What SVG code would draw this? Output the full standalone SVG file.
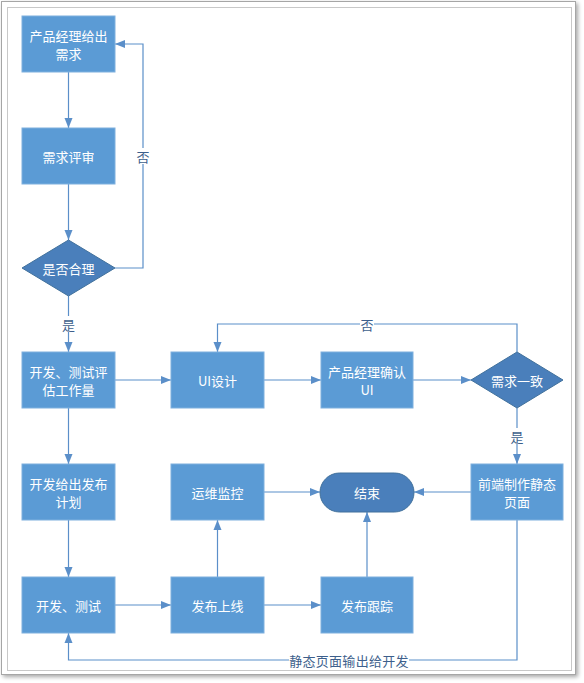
<svg xmlns="http://www.w3.org/2000/svg" width="584" height="683" viewBox="0 0 584 683">
<defs>
<style>
.box{fill:#5b9bd5;stroke:#7fb0de;stroke-width:1}
.dark{fill:#4a7fbb;stroke:#41719c;stroke-width:1}
.t{font-family:"Noto Sans CJK SC","Microsoft YaHei",sans-serif;font-size:13px;fill:#ffffff;text-anchor:middle;dominant-baseline:central}
.lbl{font-family:"Noto Sans CJK SC","Microsoft YaHei",sans-serif;font-size:13px;fill:#3d5f8c;text-anchor:middle;dominant-baseline:central}
.c{fill:none;stroke:#5b8fc9;stroke-width:1.2}
.bg{fill:#ffffff}
</style>
<marker id="ah" markerWidth="10" markerHeight="10" refX="10" refY="5" orient="auto" markerUnits="userSpaceOnUse">
<path d="M0,1 L10,5 L0,9 Z" fill="#5b8fc9"/>
</marker>
<filter id="sh" x="-10%" y="-10%" width="130%" height="130%">
<feGaussianBlur in="SourceAlpha" stdDeviation="2"/>
<feOffset dx="2" dy="2"/>
<feComponentTransfer><feFuncA type="linear" slope="0.35"/></feComponentTransfer>
<feMerge><feMergeNode/><feMergeNode in="SourceGraphic"/></feMerge>
</filter>
</defs>
<g id="frame">
<rect x="1.5" y="1.5" width="574" height="673" fill="#ffffff" stroke="#a6a6a6" stroke-width="1" filter="url(#sh)"/>
<rect x="7.5" y="7.5" width="564" height="663" fill="#ffffff" stroke="#c8c8c8" stroke-width="1"/>
</g>
<g id="connectors">
<path class="c" d="M68.5,72 V128" marker-end="url(#ah)"/>
<path class="c" d="M68.5,184 V240" marker-end="url(#ah)"/>
<path class="c" d="M115,268 H143 V44 H115" marker-end="url(#ah)"/>
<path class="c" d="M68.5,296 V352" marker-end="url(#ah)"/>
<path class="c" d="M115,380 H171" marker-end="url(#ah)"/>
<path class="c" d="M264,380 H321" marker-end="url(#ah)"/>
<path class="c" d="M413,380 H471" marker-end="url(#ah)"/>
<path class="c" d="M517,352 V324 H217.5 V352" marker-end="url(#ah)"/>
<path class="c" d="M517,408 V464" marker-end="url(#ah)"/>
<path class="c" d="M471,492 H414" marker-end="url(#ah)"/>
<path class="c" d="M264,492 H320" marker-end="url(#ah)"/>
<path class="c" d="M68.5,408 V464" marker-end="url(#ah)"/>
<path class="c" d="M68.5,520 V577" marker-end="url(#ah)"/>
<path class="c" d="M115,605 H171" marker-end="url(#ah)"/>
<path class="c" d="M217.5,577 V520" marker-end="url(#ah)"/>
<path class="c" d="M264,605 H321" marker-end="url(#ah)"/>
<path class="c" d="M367,577 V512" marker-end="url(#ah)"/>
<path class="c" d="M517,520 V660 H68.5 V633" marker-end="url(#ah)"/>
<rect class="bg" x="136" y="148" width="14" height="16"/>
<text class="lbl" x="143" y="156">否</text>
<rect class="bg" x="61" y="316" width="15" height="16"/>
<text class="lbl" x="68.5" y="324">是</text>
<rect class="bg" x="360" y="316" width="14" height="16"/>
<text class="lbl" x="367" y="324">否</text>
<rect class="bg" x="510" y="428" width="14" height="16"/>
<text class="lbl" x="517" y="436">是</text>
<rect class="bg" x="289" y="652" width="120" height="16"/>
<text class="lbl" x="349" y="660" letter-spacing="0.3">静态页面输出给开发</text>
</g>
<g id="n1"><rect class="box" x="22" y="16" width="93" height="56"/><text class="t" x="68.5" y="35">产品经理给出</text><text class="t" x="68.5" y="53">需求</text></g>
<g id="n2"><rect class="box" x="22" y="128" width="93" height="56"/><text class="t" x="68.5" y="156">需求评审</text></g>
<g id="n3"><path class="dark" d="M68.5,240 L115,268 L68.5,296 L22,268 Z"/><text class="t" x="68.5" y="268">是否合理</text></g>
<g id="n4"><rect class="box" x="22" y="352" width="93" height="56"/><text class="t" x="68.5" y="371">开发、测试评</text><text class="t" x="68.5" y="389">估工作量</text></g>
<g id="n5"><rect class="box" x="171" y="352" width="93" height="56"/><text class="t" x="217.5" y="380">UI设计</text></g>
<g id="n6"><rect class="box" x="321" y="352" width="92" height="56"/><text class="t" x="367" y="371">产品经理确认</text><text class="t" x="367" y="389">UI</text></g>
<g id="n7"><path class="dark" d="M517,352 L563,380 L517,408 L471,380 Z"/><text class="t" x="517" y="380">需求一致</text></g>
<g id="n8"><rect class="box" x="471" y="464" width="92" height="56"/><text class="t" x="517" y="483">前端制作静态</text><text class="t" x="517" y="501">页面</text></g>
<g id="n9"><rect class="dark" x="320" y="473" width="94" height="39" rx="19.5" ry="19.5"/><text class="t" x="367" y="492">结束</text></g>
<g id="n10"><rect class="box" x="171" y="464" width="93" height="56"/><text class="t" x="217.5" y="492">运维监控</text></g>
<g id="n11"><rect class="box" x="22" y="464" width="93" height="56"/><text class="t" x="68.5" y="483">开发给出发布</text><text class="t" x="68.5" y="501">计划</text></g>
<g id="n12"><rect class="box" x="22" y="577" width="93" height="56"/><text class="t" x="68.5" y="605">开发、测试</text></g>
<g id="n13"><rect class="box" x="171" y="577" width="93" height="56"/><text class="t" x="217.5" y="605">发布上线</text></g>
<g id="n14"><rect class="box" x="321" y="577" width="92" height="56"/><text class="t" x="367" y="605">发布跟踪</text></g>
</svg>
